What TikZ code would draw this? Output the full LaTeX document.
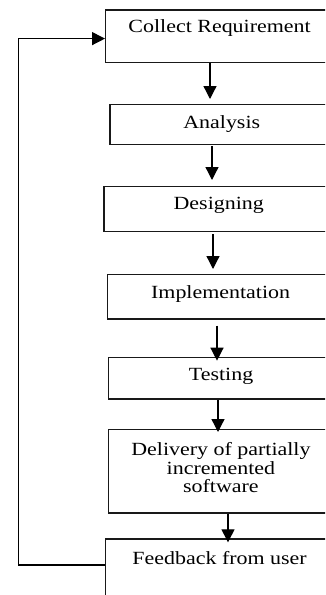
\documentclass[tikz,border=0pt]{standalone}
\usepackage{fontspec}
\setmainfont[FakeStretch=1.18]{Liberation Serif}
\usetikzlibrary{arrows.meta}
\begin{document}
\begin{tikzpicture}[x=1pt,y=-1pt,
  box/.style={draw=black!90, line width=1.2pt, rectangle, anchor=north west, inner sep=0pt},
  lbl/.style={font=\fontsize{18.6}{18.4}\selectfont, align=center, inner sep=0pt, text=black},
  arr/.style={draw=black, line width=1.3pt, -{Triangle[length=13pt,width=13pt]}}]
\useasboundingbox (0,0) rectangle (325,595);
\clip (0,0) rectangle (325,595);
\fill[white] (0,0) rectangle (325,595);

\node[box, minimum width=228pt, minimum height=52.4pt,
  label={[lbl, yshift=8.5pt]center:Collect Requirement}] (collect) at (105,9.3) {};
\node[box, minimum width=223.7pt, minimum height=40pt,
  label={[lbl, yshift=1pt]center:Analysis}] (analysis) at (109.3,104) {};
\node[box, minimum width=229.7pt, minimum height=45pt,
  label={[lbl, yshift=3.5pt]center:Designing}] (designing) at (103.3,186) {};
\node[box, minimum width=226pt, minimum height=44.3pt,
  label={[lbl, yshift=3pt]center:Implementation}] (impl) at (107,274) {};
\node[box, minimum width=225pt, minimum height=41.6pt,
  label={[lbl, yshift=1.5pt]center:Testing}] (testing) at (108,356.7) {};
\node[box, minimum width=225.3pt, minimum height=83.3pt,
  label={[lbl, yshift=3.5pt]center:Delivery of partially\\incremented\\software}] (delivery) at (107.7,429) {};
\node[box, minimum width=228pt, minimum height=80pt,
  label={[lbl, yshift=21pt]center:Feedback from user}] (feedback) at (105,538.3) {};

\draw[arr] ([xshift=105pt]collect.south west) -- ([xshift=100.7pt,yshift=5pt]analysis.north west);
\draw[arr] ([xshift=102.7pt,yshift=-1pt]analysis.south west) -- ([xshift=108.7pt,yshift=6pt]designing.north west);
\draw[arr] ([xshift=109.7pt,yshift=-2pt]designing.south west) -- ([xshift=106pt,yshift=5pt]impl.north west);
\draw[arr] ([xshift=110pt,yshift=-6pt]impl.south west) -- ([xshift=109pt,yshift=-4pt]testing.north west);
\draw[arr] ([xshift=110pt]testing.south west) -- ([xshift=110.3pt,yshift=-3pt]delivery.north west);
\draw[arr] ([xshift=120.3pt]delivery.south west) -- ([xshift=123pt,yshift=-4pt]feedback.north west);

\draw[arr] ([yshift=-26.7pt]feedback.north west) -- ++(-86.7,0) |- ([yshift=-29.3pt]collect.north west);
\end{tikzpicture}
\end{document}
